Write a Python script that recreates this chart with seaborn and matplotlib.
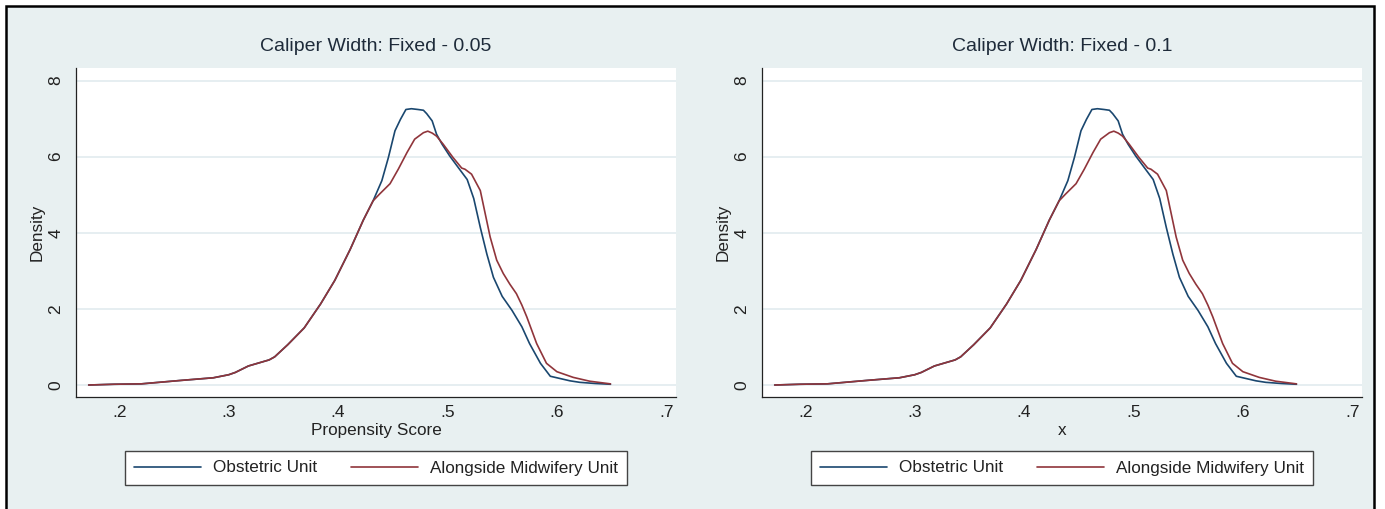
import matplotlib
matplotlib.use("Agg")
import matplotlib.pyplot as plt
from matplotlib.patches import Rectangle
from matplotlib.lines import Line2D
import pandas as pd
import seaborn as sns

# Kernel density of the propensity score, by unit type
obst_x = [0.172, 0.195, 0.220, 0.256, 0.286, 0.300, 0.306, 0.318, 0.337, 0.342,
          0.354, 0.369, 0.384, 0.397, 0.411, 0.423, 0.432, 0.440, 0.446, 0.452,
          0.457, 0.462, 0.467, 0.473, 0.478, 0.481, 0.486, 0.490, 0.495, 0.502,
          0.511, 0.518, 0.524, 0.530, 0.536, 0.542, 0.550, 0.559, 0.568, 0.575,
          0.585, 0.594, 0.603, 0.612, 0.621, 0.635, 0.649]
obst_y = [0.00, 0.02, 0.03, 0.12, 0.19, 0.27, 0.33, 0.50, 0.66, 0.74,
          1.06, 1.50, 2.13, 2.75, 3.56, 4.33, 4.84, 5.37, 5.98, 6.68,
          6.98, 7.24, 7.26, 7.24, 7.22, 7.13, 6.94, 6.59, 6.33, 6.02,
          5.67, 5.40, 4.90, 4.14, 3.44, 2.83, 2.33, 1.96, 1.53, 1.09,
          0.57, 0.23, 0.17, 0.11, 0.07, 0.04, 0.02]

amu_x = [0.172, 0.195, 0.220, 0.256, 0.286, 0.300, 0.306, 0.318, 0.337, 0.342,
         0.354, 0.369, 0.384, 0.397, 0.411, 0.423, 0.432, 0.438, 0.4475, 0.455,
         0.463, 0.470, 0.478, 0.482, 0.486, 0.490, 0.496, 0.505, 0.513, 0.516,
         0.522, 0.530, 0.5345, 0.539, 0.545, 0.551, 0.557, 0.563, 0.568, 0.5725,
         0.5815, 0.5905, 0.600, 0.615, 0.630, 0.649]
amu_y = [0.00, 0.02, 0.03, 0.12, 0.19, 0.27, 0.33, 0.50, 0.66, 0.74,
         1.06, 1.50, 2.13, 2.75, 3.56, 4.33, 4.84, 5.02, 5.29, 5.67,
         6.11, 6.46, 6.63, 6.67, 6.62, 6.54, 6.33, 5.98, 5.70, 5.67,
         5.54, 5.11, 4.50, 3.89, 3.28, 2.93, 2.65, 2.40, 2.10, 1.79,
         1.09, 0.57, 0.35, 0.20, 0.10, 0.03]

series_names = ["Obstetric Unit", "Alongside Midwifery Unit"]
series_colors = ["#1a476f", "#90353b"]
panel_titles = ["Caliper Width: Fixed - 0.05", "Caliper Width: Fixed - 0.1"]
panel_xlabels = ["Propensity Score", "x"]
x_ticks = [0.2, 0.3, 0.4, 0.5, 0.6, 0.7]
x_tick_labels = [".2", ".3", ".4", ".5", ".6", ".7"]
y_ticks = [0, 2, 4, 6, 8]
y_tick_labels = ["0", "2", "4", "6", "8"]

sns.set_theme(style="white")
plt.rcParams["font.family"] = ["Liberation Sans", "DejaVu Sans"]

df = pd.concat([
    pd.DataFrame({"score": obst_x, "density": obst_y, "unit": series_names[0]}),
    pd.DataFrame({"score": amu_x, "density": amu_y, "unit": series_names[1]}),
], ignore_index=True)
palette = dict(zip(series_names, series_colors))

W, H = 1385, 509
fig = plt.figure(figsize=(W / 100, H / 100), dpi=100, facecolor="white")

# graph region: light bluish-gray with a black frame
region = Rectangle((6 / W, -0.05), (1374 - 6) / W, (H - 6) / H + 0.05,
                   transform=fig.transFigure, facecolor="#E8F0F1",
                   edgecolor="black", linewidth=1.8, zorder=-10)
fig.patches.append(region)

ink = "#222222"
panel_left = [76, 762]
for i, left in enumerate(panel_left):
    ax = fig.add_axes([left / W, 1 - 397 / H, 600 / W, (397 - 68) / H])
    ax.set_facecolor("white")
    for yv in y_ticks:
        ax.axhline(yv, color="#E6EEF1", lw=1.4, zorder=0)
    sns.lineplot(data=df, x="score", y="density", hue="unit",
                 hue_order=series_names, palette=palette, sort=False,
                 estimator=None, lw=1.2, legend=False, ax=ax)
    ax.set_xlim(0.1604, 0.7089)
    ax.set_ylim(-0.315, 8.33)
    ax.set_xticks(x_ticks)
    ax.set_xticklabels(x_tick_labels)
    ax.set_yticks(y_ticks)
    ax.set_yticklabels(y_tick_labels, rotation=90, va="center")
    ax.tick_params(axis="both", direction="out", length=4, width=0.8,
                   color=ink, labelcolor=ink, labelsize=12.5, pad=2)
    ax.tick_params(axis="y", pad=5)
    for side in ["top", "right"]:
        ax.spines[side].set_visible(False)
    for side in ["left", "bottom"]:
        ax.spines[side].set_color(ink)
        ax.spines[side].set_linewidth(0.9)
    ax.set_title(panel_titles[i], fontsize=14, color="#1e2b3a", pad=12)
    ax.set_xlabel(panel_xlabels[i], fontsize=12.3, color=ink, labelpad=2)
    ax.set_ylabel("Density", fontsize=12.3, color=ink, labelpad=3)

    handles = [Line2D([], [], color=c, lw=1.2) for c in series_colors]
    cx = (left + 300) / W
    leg = ax.legend(handles, series_names, loc="center",
                    bbox_to_anchor=(cx, 1 - 468 / H),
                    bbox_transform=fig.transFigure, ncol=2, frameon=True,
                    fancybox=False, edgecolor="#444444", framealpha=1,
                    fontsize=12.3, handlelength=3.9, handletextpad=0.7,
                    columnspacing=2.0, borderpad=0.55)
    leg.get_frame().set_linewidth(1.0)
    for t in leg.get_texts():
        t.set_color(ink)

fig.savefig("out.png", dpi=100, facecolor="white")
